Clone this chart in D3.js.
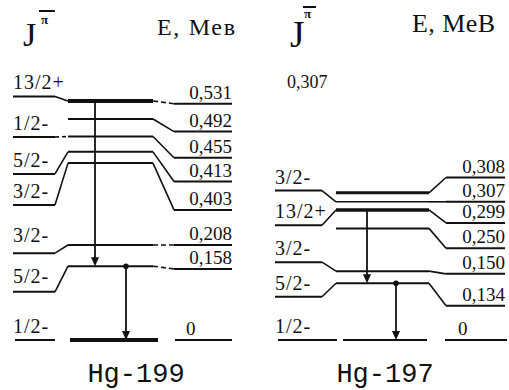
<!DOCTYPE html>
<html>
<head>
<meta charset="UTF-8">
<script src="https://cdn.jsdelivr.net/npm/d3@7"></script>
</head>
<body style="margin:0">
<script>
// Hg-199: level energies (MeV) as placed in each column of the scheme
const hg199Spins  = ["13/2+", null, "1/2-", "5/2-", "3/2-", "3/2-", "5/2-", "1/2-"];
const hg199Labels = ["0,531", "0,492", "0,455", "0,413", "0,403", "0,208", "0,158", "0"];
const hg199Left   = [0.541, null, 0.451, 0.369, 0.300, 0.193, 0.107, 0];
const hg199Mid    = [0.531, 0.491, 0.452, 0.418, 0.393, 0.211, 0.164, 0];
const hg199Right  = [0.525, 0.463, 0.405, 0.352, 0.289, 0.211, 0.158, 0];
const hg199Gammas = [[0, 6], [6, 7]];

// Hg-197
const hg197Spins  = [null, "3/2-", "13/2+", null, "3/2-", "5/2-", "1/2-"];
const hg197Labels = ["0,308", "0,307", "0,299", "0,250", "0,150", "0,134", "0"];
const hg197Left   = [null, 0.332, 0.255, null, 0.173, 0.096, 0];
const hg197Mid    = [0.327, 0.307, 0.289, 0.248, 0.153, 0.126, 0];
const hg197Right  = [0.361, 0.307, 0.260, 0.204, 0.147, 0.076, 0];
const hg197Gammas = [[2, 5], [5, 6]];

const w = 509;
const h = 390;
const serif = '"Liberation Serif"';
const mono = '"Liberation Mono"';

const svg = d3.select("body")
              .append("svg")
              .attr("width", w)
              .attr("height", h);

// one energy scale shared by both schemes
const yScale = d3.scaleLinear()
                 .domain([0, 0.531])
                 .range([340, 101]);

const panels = [
    {
        name: "Hg-199", spins: hg199Spins, labels: hg199Labels,
        left: hg199Left, mid: hg199Mid, right: hg199Right, gammas: hg199Gammas,
        cols: [13, 55, 68, 153, 174, 232],
        ground: [[15, 55], [70, 158], [175, 232]],
        groundLabelX: 186,
        gammaX: [95, 126],
        thick: {0: 4, 7: 4},
        dashedLeft: [2],
        dashedRight: [0, 5, 6],
        spinShift: {5: -4, 6: -2},
        titleX: 136
    },
    {
        name: "Hg-197", spins: hg197Spins, labels: hg197Labels,
        left: hg197Left, mid: hg197Mid, right: hg197Right, gammas: hg197Gammas,
        cols: [275, 322, 336, 429, 446, 505],
        ground: [[278, 337], [343, 427], [445, 507]],
        groundLabelX: 458,
        gammaX: [367, 396],
        thick: {0: 3, 2: 3.5, 1: 1.5},
        dashedLeft: [],
        dashedRight: [],
        spinShift: {},
        titleX: 385
    }
];

const line = d3.line();

panels.forEach(p => {
    const g = svg.append("g");
    const [l0, l1, m0, m1, r0, r1] = p.cols;
    const last = p.mid.length - 1;

    p.mid.forEach((e, i) => {
        const sw = p.thick[i] || 2;
        const ym = yScale(e);

        if (i === last) {
            // ground state: three separate pieces, no connectors
            p.ground.forEach((seg, k) => {
                g.append("path")
                 .attr("d", line([[seg[0], yScale(0)], [seg[1], yScale(0)]]))
                 .attr("stroke", "#111")
                 .attr("stroke-width", k === 1 && p.name === "Hg-199" ? 4 : 2)
                 .attr("fill", "none");
            });
            return;
        }

        // middle column
        g.append("path")
         .attr("d", line([[m0, ym], [m1, ym]]))
         .attr("stroke", "#111")
         .attr("stroke-width", sw)
         .attr("fill", "none");

        // left column + connector
        if (p.left[i] !== null) {
            const yl = yScale(p.left[i]);
            g.append("path")
             .attr("d", line([[l0, yl], [l1, yl]]))
             .attr("stroke", "#111")
             .attr("stroke-width", 2)
             .attr("fill", "none");
            g.append("path")
             .attr("d", line([[l1, yl], [m0, ym]]))
             .attr("stroke", "#111")
             .attr("stroke-width", 1.6)
             .attr("stroke-dasharray", p.dashedLeft.includes(i) ? "4,3" : null)
             .attr("fill", "none");
        }

        // connector + right column
        const yr = yScale(p.right[i]);
        g.append("path")
         .attr("d", line([[m1, ym], [r0, yr]]))
         .attr("stroke", "#111")
         .attr("stroke-width", 1.6)
         .attr("stroke-dasharray", p.dashedRight.includes(i) ? "5,3" : null)
         .attr("fill", "none");
        g.append("path")
         .attr("d", line([[r0, yr], [r1, yr]]))
         .attr("stroke", "#111")
         .attr("stroke-width", 2)
         .attr("fill", "none");
    });

    // spin labels (left side)
    g.selectAll("text.spin")
     .data(p.spins.map((s, i) => ({s, e: p.left[i], i})).filter(d => d.s !== null))
     .enter()
     .append("text")
     .attr("class", "spin")
     .attr("x", l0)
     .attr("y", d => yScale(d.e) - 7 + (p.spinShift[d.i] || 0))
     .style("font-family", serif)
     .attr("font-size", 20)
     .attr("letter-spacing", 1)
     .attr("fill", "#111")
     .text(d => d.s);

    // energy labels (right side)
    g.selectAll("text.energy")
     .data(p.labels.map((s, i) => ({s, e: p.right[i], i})))
     .enter()
     .append("text")
     .attr("class", "energy")
     .attr("x", d => d.i === last ? p.groundLabelX : r1)
     .attr("y", d => yScale(d.e) - 5)
     .attr("text-anchor", d => d.i === last ? "start" : "end")
     .style("font-family", serif)
     .attr("font-size", 19)
     .attr("fill", "#111")
     .text(d => d.s);

    // gamma transitions
    p.gammas.forEach(([from, to], k) => {
        const x = p.gammaX[k];
        const y1 = yScale(p.mid[from]);
        const y2 = yScale(p.mid[to]);
        g.append("path")
         .attr("d", line([[x, y1], [x, y2 - 7]]))
         .attr("stroke", "#111")
         .attr("stroke-width", 1.8);
        g.append("path")
         .attr("d", line([[x - 4, y2 - 9], [x + 4, y2 - 9], [x, y2]]) + "Z")
         .attr("fill", "#111");
        if (k > 0) {
            g.append("circle")
             .attr("cx", x)
             .attr("cy", y1)
             .attr("r", 2.8)
             .attr("fill", "#111");
        }
    });

    // isotope name
    g.append("text")
     .attr("x", p.titleX)
     .attr("y", 382)
     .attr("text-anchor", "middle")
     .style("font-family", mono)
     .attr("font-size", 27)
     .attr("fill", "#111")
     .text(p.name);
});

// headers
const head = [
    {jx: 23, jy: 46, js: 34, px: 41, py: 24, bar: [39, 55, 11], ex: 157, ey: 35, es: 24, el: 78, et: "E, Мев"},
    {jx: 290, jy: 47, js: 37, px: 304, py: 18, bar: [303, 316, 7], ex: 412, ey: 32, es: 26, el: 83, et: "E, MeB"}
];
head.forEach(d => {
    svg.append("text").attr("x", d.jx).attr("y", d.jy).attr("font-size", d.js)
       .style("font-family", serif).attr("fill", "#111").text("J");
    svg.append("text").attr("x", d.px).attr("y", d.py).attr("font-size", 13)
       .style("font-family", serif).attr("font-weight", "bold").attr("fill", "#111").text("π");
    svg.append("path").attr("d", line([[d.bar[0], d.bar[2]], [d.bar[1], d.bar[2]]]))
       .attr("stroke", "#111").attr("stroke-width", 2);
    svg.append("text").attr("x", d.ex).attr("y", d.ey).attr("font-size", d.es)
       .style("font-family", serif).attr("fill", "#111")
       .attr("textLength", d.el).attr("lengthAdjust", "spacing").text(d.et);
});

svg.append("text")
   .attr("x", 287)
   .attr("y", 88)
   .style("font-family", serif)
   .attr("font-size", 18)
   .attr("fill", "#111")
   .text("0,307");
</script>
</body>
</html>
